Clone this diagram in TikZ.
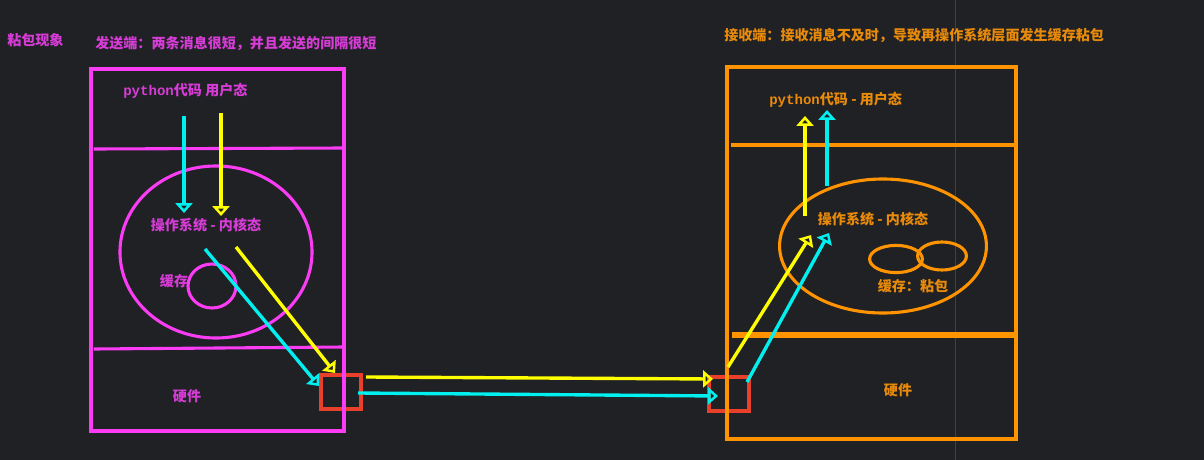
\documentclass[tikz,border=0pt]{standalone}
\usepackage{fontspec}
\setmainfont{Noto Sans CJK SC}
\newfontfamily\codefont{Liberation Mono}
\usetikzlibrary{arrows.meta,shapes.geometric}
\definecolor{nbbg}{RGB}{32,33,36}
\definecolor{nbgrid}{RGB}{64,65,69}
\definecolor{nbpink}{RGB}{250,60,245}
\definecolor{nbpinktext}{RGB}{215,60,215}
\definecolor{nborange}{RGB}{255,148,0}
\definecolor{nborangetext}{RGB}{232,138,10}
\definecolor{nbyellow}{RGB}{255,255,0}
\definecolor{nbcyan}{RGB}{0,240,240}
\definecolor{nbred}{RGB}{232,64,42}
\tikzset{
  nbtitle/.style={font=\fontsize{10}{12}\selectfont\bfseries, anchor=west, inner sep=0pt},
  nblabel/.style={font=\fontsize{10}{12}\selectfont\bfseries, inner sep=0pt},
  nbpinkline/.style={draw=nbpink, line width=2.2pt},
  nborangeline/.style={draw=nborange, line width=2.2pt},
  nbbuf/.style={draw=nbred, line width=2.4pt, minimum width=1cm, minimum height=.85cm, inner sep=0pt},
  nbarr/.style={-{Triangle[open, length=7pt, width=12pt]}, line width=2.4pt},
  nbarry/.style={nbarr, draw=nbyellow},
  nbarrc/.style={nbarr, draw=nbcyan}
}

\begin{document}
\begin{tikzpicture}[x=.025cm, y=-.025cm, font=\fontsize{10}{12}\selectfont]
  \fill[nbbg] (0,0) rectangle (1204,460);
  \useasboundingbox (0,0) rectangle (1204,460);
  \draw[nbgrid, line width=.6pt] (955,0) -- (955,460);
  % titles
  \node[nbtitle, text=nbpinktext] (title) at (7,40) {粘包现象};
  \node[nbtitle, text=nbpinktext] (sendtitle) at (95,44) {发送端：两条消息很短，并且发送的间隔很短};
  \node[nbtitle, text=nborangetext] (recvtitle) at (724,35) {接收端：接收消息不及时，导致再操作系统层面发生缓存粘包};
  % sender
  \node[nbbuf] (sbuf) at (341,392) {};
  \draw[nbpinkline] (91,69) rectangle (344,431);
  \draw[nbpinkline] (94,149) -- (344,148);
  \draw[nbpinkline] (94,349) -- (344,347);
  \node[nblabel, text=nbpinktext, anchor=west] (suser) at (123,91) {{\codefont\bfseries python}代码 用户态};
  \node[nbpinkline, ellipse, minimum width=4.8cm, minimum height=4.3cm] (skern) at (216,252) {};
  \node[nblabel, text=nbpinktext] (skernlab) at (206,225) {操作系统 - 内核态};
  \node[nbpinkline, ellipse, minimum width=1.2cm, minimum height=1.1cm] (scache) at (212,286) {};
  \node[nblabel, text=nbpinktext] (scachelab) at (174,281) {缓存};
  \node[nblabel, text=nbpinktext] (shwlab) at (187,396) {硬件};
  % receiver
  \node[nbbuf] (rbuf) at (729,394) {};
  \draw[nborangeline] (727,67) rectangle (1016,439);
  \draw[nborangeline] (731,145) -- (1015,145);
  \draw[nborangeline, line width=3.6pt] (732,335) -- (1014,335);
  \node[nblabel, text=nborangetext, anchor=west] (ruser) at (769,100) {{\codefont\bfseries python}代码 - 用户态};
  \node[nborangeline, ellipse, minimum width=5.17cm, minimum height=3.35cm] (rkern) at (883,246) {};
  \node[nblabel, text=nborangetext] (rkernlab) at (873,219) {操作系统 - 内核态};
  \node[nborangeline, ellipse, minimum width=1.32cm, minimum height=.68cm] (rcachea) at (896,259) {};
  \node[nborangeline, ellipse, minimum width=1.22cm, minimum height=.7cm] (rcacheb) at (942,256) {};
  \node[nblabel, text=nborangetext] (rcachelab) at (913,286) {缓存：粘包};
  \node[nblabel, text=nborangetext] (rhwlab) at (898,390) {硬件};
  % message paths
  \coordinate (sy0) at (221,113);  \coordinate (sy1) at (221,216);
  \coordinate (sc0) at (184,116);  \coordinate (sc1) at (184,213);
  \coordinate (sy2) at (236,247);  \coordinate (sy3) at (335,373);
  \coordinate (sc2) at (205,249);  \coordinate (sc3) at (319,386);
  \coordinate (ty0) at (366,377);  \coordinate (ty1) at (713,379);
  \coordinate (tc0) at (358,393);  \coordinate (tc1) at (718,396);
  \coordinate (ry0) at (728,367);  \coordinate (ry1) at (811,235);
  \coordinate (rc0) at (747,382);  \coordinate (rc1) at (829,233);
  \coordinate (ry2) at (805,216);  \coordinate (ry3) at (805,116);
  \coordinate (rc2) at (827,186);  \coordinate (rc3) at (827,110);
  \draw[nbarrc] (sc0) -- (sc1);
  \draw[nbarry] (sy0) -- (sy1);
  \draw[nbarrc] (sc2) -- (sc3);
  \draw[nbarry] (sy2) -- (sy3);
  \draw[nbarry] (ty0) -- (ty1);
  \draw[nbarrc] (tc0) -- (tc1);
  \draw[nbarry] (ry0) -- (ry1);
  \draw[nbarrc] (rc0) -- (rc1);
  \draw[nbarry] (ry2) -- (ry3);
  \draw[nbarrc] (rc2) -- (rc3);
\end{tikzpicture}
\end{document}
